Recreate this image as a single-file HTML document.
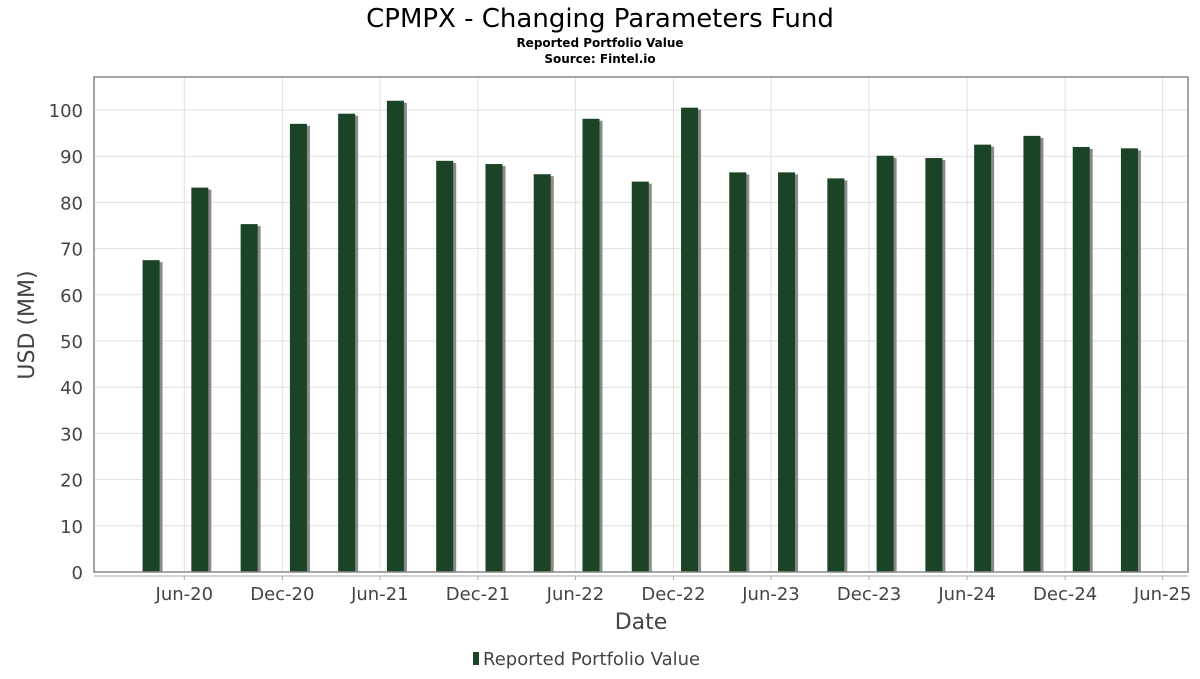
<!DOCTYPE html>
<html><head><meta charset="utf-8"><style>
body{margin:0;background:#fff;font-family:"DejaVu Sans","Liberation Sans",sans-serif;}
svg text{font-family:"DejaVu Sans","Liberation Sans",sans-serif;}
</style></head><body>
<svg id="chart" width="1200" height="675" xmlns="http://www.w3.org/2000/svg">
<rect width="1200" height="675" fill="#fff"/>
<text x="600" y="27" text-anchor="middle" font-size="26" fill="#000">CPMPX - Changing Parameters Fund</text>
<text x="600" y="47" text-anchor="middle" font-size="12" font-weight="bold" fill="#000">Reported Portfolio Value</text>
<text x="600" y="63" text-anchor="middle" font-size="12" font-weight="bold" fill="#000">Source: Fintel.io</text>
<g id="grid"></g>
<g id="bars"></g>
<rect x="94" y="77" width="1094" height="495" fill="none" stroke="#888" stroke-width="1.5"/>
<g id="yaxis"></g>
<g id="xaxis"></g>
<text transform="translate(34,325) rotate(-90)" text-anchor="middle" font-size="22" fill="#444">USD (MM)</text>
<text x="641" y="629" text-anchor="middle" font-size="22" fill="#444">Date</text>
<g>
<rect x="473" y="652" width="6" height="13" fill="#1a4425"/>
<text x="483" y="665" font-size="18" fill="#444">Reported Portfolio Value</text>
</g>
</svg>
<script>
const dates = ["2020-03-31","2020-06-30","2020-09-30","2020-12-31","2021-03-31","2021-06-30","2021-09-30","2021-12-31","2022-03-31","2022-06-30","2022-09-30","2022-12-31","2023-03-31","2023-06-30","2023-09-30","2023-12-31","2024-03-31","2024-06-30","2024-09-30","2024-12-31","2025-03-31"];
const values = [67.5,83.2,75.3,97.0,99.2,102.0,89.0,88.3,86.1,98.1,84.5,100.5,86.5,86.5,85.2,90.1,89.6,92.5,94.4,92.0,91.7];
const yTicks = [0,10,20,30,40,50,60,70,80,90,100];
const xTickDates = ["2020-06-01","2020-12-01","2021-06-01","2021-12-01","2022-06-01","2022-12-01","2023-06-01","2023-12-01","2024-06-01","2024-12-01","2025-06-01"];
const xTickLabels = ["Jun-20","Dec-20","Jun-21","Dec-21","Jun-22","Dec-22","Jun-23","Dec-23","Jun-24","Dec-24","Jun-25"];
const NS="http://www.w3.org/2000/svg";
const ref=Date.UTC(2020,5,1);
function xs(d){const p=d.split("-");const t=Date.UTC(+p[0],+p[1]-1,+p[2]);return 184.3+(t-ref)/86400000*0.5358;}
function ys(v){return 572-v*4.62;}
function mk(tag,attrs,parent){const e=document.createElementNS(NS,tag);for(const k in attrs)e.setAttribute(k,attrs[k]);parent.appendChild(e);return e;}
const grid=document.getElementById("grid"),bars=document.getElementById("bars"),ya=document.getElementById("yaxis"),xa=document.getElementById("xaxis");
yTicks.forEach(v=>{
  const l=mk("line",{x1:94,x2:1188,y1:ys(v),y2:ys(v),stroke:"#e0e0e0","stroke-width":1},grid);
  
  
  const t=mk("text",{x:83,y:ys(v)+7,"text-anchor":"end","font-size":18,fill:"#444"},ya);
  t.textContent=v;
  
  
});
xTickDates.forEach((d,i)=>{
  const x=xs(d);
  const l=mk("line",{x1:x,x2:x,y1:77,y2:572,stroke:"#e0e0e0","stroke-width":1},grid);
  
  
  const tk=mk("line",{x1:x,x2:x,y1:576,y2:580,stroke:"#aaa"},xa);
  
  
  const t=mk("text",{x:x,y:600,"text-anchor":"middle","font-size":18,fill:"#444"},xa);
  t.textContent=xTickLabels[i];
  
  
});
const bl=mk("line",{x1:94,x2:1188,y1:576,y2:576,stroke:"#aaa"},xa);


values.forEach((v,i)=>{
  const cx=xs(dates[i]);
  const s=mk("rect",{x:cx-8.5+3,y:ys(v)+2,width:17,height:572-ys(v)-2,fill:"#8a8a8a"},bars);
  
  
  const r=mk("rect",{x:cx-8.5,y:ys(v),width:17,height:572-ys(v),fill:"#1a4425"},bars);
  
  
});
</script>
</body></html>
